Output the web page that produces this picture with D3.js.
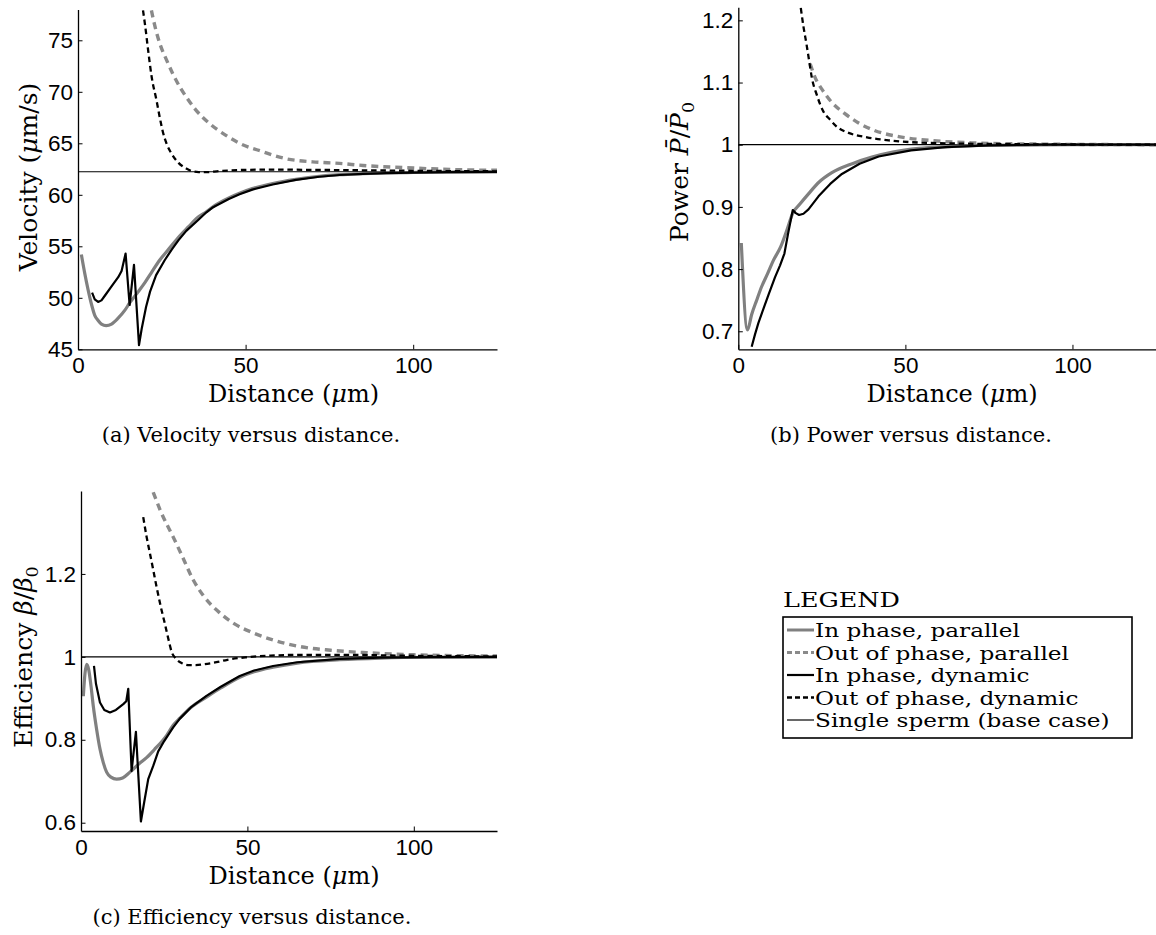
<!DOCTYPE html>
<html>
<head>
<meta charset="utf-8">
<script src="https://cdn.jsdelivr.net/npm/d3@7"></script>
<style>
  html, body { margin: 0; padding: 0; background: #fff; }
  svg { display: block; }
</style>
</head>
<body>
<script>
// ---------------- DATA ----------------
const distTicks = [0, 50, 100];
const velTicks = [45, 50, 55, 60, 65, 70, 75];
const powTicks = [0.7, 0.8, 0.9, 1, 1.1, 1.2];
const effTicks = [0.6, 0.8, 1, 1.2];

const velBase = 62.24, powBase = 1, effBase = 1;

// (a) Velocity
const velInParX  = [1, 2, 3, 4, 5, 6, 7, 8.4, 10, 11.9, 14, 15.4, 18, 20, 22, 24.4, 27, 29.8, 33, 35.7, 38.3, 41, 45, 48.2, 52, 58.1, 65, 72, 78, 85, 92, 100, 110, 125];
const velInParY  = [54.2, 52.4, 50.8, 49.4, 48.3, 47.8, 47.45, 47.3, 47.45, 48.0, 48.8, 49.5, 50.6, 51.5, 52.5, 53.67, 54.7, 55.8, 56.9, 57.8, 58.36, 59.0, 59.7, 60.15, 60.6, 61.1, 61.5, 61.8, 61.95, 62.05, 62.12, 62.17, 62.2, 62.22];
const velOutParX = [21.9, 23, 24.5, 26.4, 28.5, 30.5, 32.3, 35, 39.3, 44, 48.2, 55, 62.1, 70, 78, 85, 100, 112, 125];
const velOutParY = [77.9, 76.3, 74.6, 73.1, 71.6, 70.4, 69.5, 68.3, 66.9, 65.8, 65.0, 64.2, 63.5, 63.2, 63.05, 62.85, 62.6, 62.45, 62.38];
const velInDynX  = [4.2, 5, 6, 7, 8, 10, 12, 13, 14.2, 15.4, 16.7, 18.2, 19, 20.3, 21.5, 23.3, 25.9, 28, 30, 32.3, 35.7, 38.3, 40.3, 45, 48.2, 52, 58.1, 65, 72, 78, 85, 92, 100, 110, 125];
const velInDynY  = [50.5, 49.85, 49.6, 49.75, 50.2, 51.1, 52.0, 52.6, 54.3, 49.3, 53.2, 45.4, 47.0, 49.1, 50.6, 52.2, 53.67, 54.7, 55.6, 56.5, 57.5, 58.3, 58.8, 59.6, 60.05, 60.5, 61.0, 61.45, 61.75, 61.92, 62.03, 62.1, 62.16, 62.2, 62.22];
const velOutDynX = [19.4, 20, 20.9, 22, 23.4, 24.4, 25.4, 26.5, 27.9, 30, 32.3, 34, 36, 38.3, 42, 48, 58, 70, 85, 100, 125];
const velOutDynY = [77.9, 76.5, 74.1, 71.4, 69.2, 67.5, 66.0, 64.9, 64.0, 63.1, 62.55, 62.3, 62.2, 62.2, 62.3, 62.4, 62.45, 62.42, 62.38, 62.33, 62.28];

// (b) Power
const powInParX  = [0.9, 2.75, 4, 5.5, 7, 8.8, 10.5, 12.7, 14.5, 16.3, 18.5, 21, 24.2, 28, 34.1, 40, 46.2, 54, 62.7, 72, 85, 100, 125];
const powInParY  = [0.842, 0.702, 0.727, 0.75, 0.772, 0.793, 0.814, 0.836, 0.862, 0.89, 0.905, 0.921, 0.94, 0.955, 0.9695, 0.98, 0.988, 0.994, 0.997, 0.999, 0.9995, 1.0, 1.0];
const powOutParX = [21.5, 23, 25.3, 28, 31.9, 36, 40.7, 48, 57.2, 70, 90, 125];
const powOutParY = [1.13, 1.108, 1.087, 1.068, 1.05, 1.035, 1.023, 1.013, 1.007, 1.003, 1.001, 1.0];
const powInDynX  = [4, 5, 6, 7.7, 9, 11, 12.5, 13.8, 14.9, 16.3, 17.2, 18.2, 19.5, 21, 24, 27.5, 31, 36.3, 42, 51.7, 62, 75, 90, 125];
const powInDynY  = [0.675, 0.695, 0.713, 0.739, 0.758, 0.787, 0.806, 0.825, 0.857, 0.895, 0.89, 0.887, 0.889, 0.896, 0.917, 0.937, 0.953, 0.9695, 0.981, 0.991, 0.996, 0.999, 1.0, 1.0];
const powOutDynX = [18.7, 19.5, 20.4, 21.2, 22, 23.5, 25.3, 27.5, 29.7, 33, 38.5, 45, 52, 65, 80, 125];
const powOutDynY = [1.22, 1.19, 1.162, 1.135, 1.108, 1.08, 1.055, 1.04, 1.028, 1.019, 1.012, 1.007, 1.004, 1.002, 1.001, 1.0];

// (c) Efficiency
const effInParX  = [0.7, 1.2, 1.7, 2.3, 3, 3.7, 4.7, 5.7, 6.7, 7.7, 9, 10.7, 12.5, 14.7, 17.7, 19.7, 22, 25.7, 27.7, 29.7, 33, 37.7, 42, 47.7, 52, 57.7, 65, 77.8, 90, 105, 125];
const effInParY  = [0.905, 0.96, 0.982, 0.97, 0.93, 0.881, 0.825, 0.778, 0.745, 0.722, 0.71, 0.705, 0.708, 0.722, 0.744, 0.757, 0.776, 0.81, 0.835, 0.852, 0.878, 0.903, 0.925, 0.951, 0.964, 0.975, 0.985, 0.993, 0.997, 0.999, 0.9995];
const effOutParX = [21.7, 24, 27.7, 30, 33.7, 37, 41.7, 46, 51.7, 58, 65.7, 75, 85.7, 100, 125];
const effOutParY = [1.397, 1.35, 1.289, 1.25, 1.186, 1.145, 1.106, 1.08, 1.058, 1.04, 1.025, 1.016, 1.01, 1.005, 1.002];
const effInDynX  = [3.9, 4.5, 5.7, 7, 8.7, 10.5, 12.7, 13.6, 14.2, 15.2, 16.5, 18.0, 19, 20.2, 21.7, 23.2, 25, 27.7, 29.7, 33, 37.7, 42, 47.7, 52, 57.7, 65, 77.8, 90, 105, 125];
const effInDynY  = [0.978, 0.935, 0.89, 0.872, 0.866, 0.872, 0.886, 0.893, 0.923, 0.725, 0.819, 0.603, 0.65, 0.705, 0.737, 0.772, 0.797, 0.83, 0.851, 0.878, 0.906, 0.928, 0.954, 0.967, 0.978, 0.987, 0.995, 0.998, 0.9995, 1.0];
const effOutDynX = [18.7, 19.7, 20.7, 21.7, 22.7, 24, 25.2, 26.2, 27.2, 28.7, 30.5, 32.5, 34.5, 37, 40.7, 44, 49.7, 57, 67.8, 78, 95, 125];
const effOutDynY = [1.337, 1.29, 1.25, 1.21, 1.169, 1.12, 1.08, 1.045, 1.013, 0.994, 0.984, 0.98, 0.98, 0.982, 0.987, 0.993, 0.999, 1.003, 1.005, 1.005, 1.003, 1.001];

const legendTitle = "LEGEND";
const legendLabels = ["In phase, parallel", "Out of phase, parallel", "In phase, dynamic", "Out of phase, dynamic", "Single sperm (base case)"];
const captions = ["(a) Velocity versus distance.", "(b) Power versus distance.", "(c) Efficiency versus distance."];

// ---------------- STYLES ----------------
const SERIF = "'DejaVu Serif', serif";
const SANS = "'Liberation Sans', Arial, sans-serif";
const styles = {
  inPar:  { stroke: "#808080", width: 3.2, dash: null, curve: d3.curveMonotoneX },
  outPar: { stroke: "#8a8a8a", width: 3.4, dash: "7,5", curve: d3.curveMonotoneX },
  inDyn:  { stroke: "#000", width: 2.2, dash: null, curve: d3.curveLinear },
  outDyn: { stroke: "#000", width: 2.3, dash: "5.5,3.8", curve: d3.curveMonotoneX },
  base:   { stroke: "#000", width: 1.2, dash: null }
};

const svg = d3.select("body").append("svg").attr("width", 1156).attr("height", 935);

function richText(sel, parts, size) {
  parts.forEach(pt => {
    const t = sel.append("tspan").text(pt.t);
    if (pt.it) t.attr("font-style", "italic");
    if (pt.sub) t.attr("font-size", size * 0.7).attr("dy", size * 0.25);
  });
}

const panels = [
  { id: "a", xr: [78, 497], yr: [349.3, 9.4], ydom: [45, 78], yticks: velTicks, base: velBase,
    series: [[velInParX, velInParY, "inPar"], [velOutParX, velOutParY, "outPar"], [velInDynX, velInDynY, "inDyn"], [velOutDynX, velOutDynY, "outDyn"]],
    ylab: [{t: "Velocity ("}, {t: "\u03bc", it: true}, {t: "m/s)"}], ylabX: 37, ylabY: 177,
    xlabX: 293.5, xlabY: 402, cap: captions[0], capX: 251, capY: 442 },
  { id: "b", xr: [738.3, 1156], yr: [349.3, 7.3], ydom: [0.671, 1.221], yticks: powTicks, base: powBase,
    series: [[powInParX, powInParY, "inPar"], [powOutParX, powOutParY, "outPar"], [powInDynX, powInDynY, "inDyn"], [powOutDynX, powOutDynY, "outDyn"]],
    ylab: [{t: "Power "}, {t: "P\u0304", it: true}, {t: "/"}, {t: "P\u0304", it: true}, {t: "0", sub: true}], ylabX: 688, ylabY: 172,
    xlabX: 952, xlabY: 402, cap: captions[1], capX: 911, capY: 442 },
  { id: "c", xr: [81, 497], yr: [831, 491], ydom: [0.58, 1.4], yticks: effTicks, base: effBase,
    series: [[effInParX, effInParY, "inPar"], [effOutParX, effOutParY, "outPar"], [effInDynX, effInDynY, "inDyn"], [effOutDynX, effOutDynY, "outDyn"]],
    ylab: [{t: "Efficiency "}, {t: "\u03b2", it: true}, {t: "/"}, {t: "\u03b2", it: true}, {t: "0", sub: true}], ylabX: 32, ylabY: 657,
    xlabX: 294, xlabY: 884, cap: captions[2], capX: 252, capY: 924 }
];

panels.forEach(p => {
  const x = d3.scaleLinear().domain([0, 125]).range(p.xr);
  const y = d3.scaleLinear().domain(p.ydom).range(p.yr);
  const g = svg.append("g");
  const clipId = "clip-" + p.id;
  svg.append("defs").append("clipPath").attr("id", clipId).append("rect")
    .attr("x", p.xr[0]).attr("y", p.yr[1]).attr("width", p.xr[1] - p.xr[0]).attr("height", p.yr[0] - p.yr[1]);

  const plot = g.append("g").attr("clip-path", `url(#${clipId})`);
  plot.append("line")
    .attr("x1", x(0)).attr("x2", x(125)).attr("y1", y(p.base)).attr("y2", y(p.base))
    .attr("stroke", styles.base.stroke).attr("stroke-width", styles.base.width);

  p.series.forEach(([xs, ys, key]) => {
    const st = styles[key];
    const line = d3.line().x(d => x(d[0])).y(d => y(d[1])).curve(st.curve);
    plot.append("path").datum(d3.zip(xs, ys))
      .attr("d", line).attr("fill", "none")
      .attr("stroke", st.stroke).attr("stroke-width", st.width)
      .attr("stroke-dasharray", st.dash).attr("stroke-linejoin", "round");
  });

  const xa = g.append("g").attr("transform", `translate(0,${p.yr[0]})`)
    .call(d3.axisBottom(x).tickValues(distTicks).tickSizeInner(-4.5).tickSizeOuter(0).tickPadding(8).tickFormat(d3.format("d")));
  const ya = g.append("g").attr("transform", `translate(${p.xr[0]},0)`)
    .call(d3.axisLeft(y).tickValues(p.yticks).tickSizeInner(-4.5).tickSizeOuter(0).tickPadding(5).tickFormat(d => String(+d.toFixed(2))));
  [xa, ya].forEach(a => {
    a.attr("font-family", null).attr("font-size", null);
    a.selectAll("text").attr("font-family", SANS).attr("font-size", 22.5).attr("fill", "#000");
    a.select(".domain").attr("stroke", "#000").attr("stroke-width", 1.3);
    a.selectAll(".tick line").attr("stroke", "#000").attr("stroke-width", 1);
  });

  const xl = svg.append("text").attr("x", p.xlabX).attr("y", p.xlabY)
    .attr("text-anchor", "middle").attr("font-family", SERIF).attr("font-size", 24).attr("fill", "#000");
  richText(xl, [{t: "Distance ("}, {t: "\u03bc", it: true}, {t: "m)"}], 24);

  const yl = svg.append("text").attr("transform", `translate(${p.ylabX},${p.ylabY}) rotate(-90)`)
    .attr("text-anchor", "middle").attr("font-family", SERIF).attr("font-size", 25).attr("fill", "#000");
  richText(yl, p.ylab, 25);

  svg.append("text").attr("x", p.capX).attr("y", p.capY).attr("text-anchor", "middle")
    .attr("font-family", SERIF).attr("font-size", 21).attr("fill", "#000").text(p.cap);
});

// ---------------- LEGEND ----------------
const legKeys = ["inPar", "outPar", "inDyn", "outDyn", "base"];
const lg = svg.append("g");
lg.append("text").attr("x", 783).attr("y", 607).attr("font-family", SERIF).attr("font-size", 21)
  .attr("fill", "#000").attr("textLength", 117).attr("lengthAdjust", "spacingAndGlyphs").text(legendTitle);
lg.append("rect").attr("x", 783).attr("y", 617).attr("width", 349).attr("height", 121)
  .attr("fill", "none").attr("stroke", "#000").attr("stroke-width", 1.6);
const rowY = d3.scaleLinear().domain([0, 4]).range([630, 720]);
legendLabels.forEach((lab, i) => {
  const st = styles[legKeys[i]];
  const cy = rowY(i);
  lg.append("line").attr("x1", 787).attr("x2", 814).attr("y1", cy).attr("y2", cy)
    .attr("stroke", st.stroke).attr("stroke-width", i === 4 ? 1.2 : Math.min(st.width, 3))
    .attr("stroke-dasharray", st.dash ? "5,3" : null);
  const t = lg.append("text").attr("x", 815).attr("y", cy + 7).attr("font-family", SERIF).attr("font-size", 19)
    .attr("fill", "#000").text(lab);
  const w = t.node().getComputedTextLength();
  t.attr("textLength", w * 1.22).attr("lengthAdjust", "spacingAndGlyphs");
});
</script>
</body>
</html>
